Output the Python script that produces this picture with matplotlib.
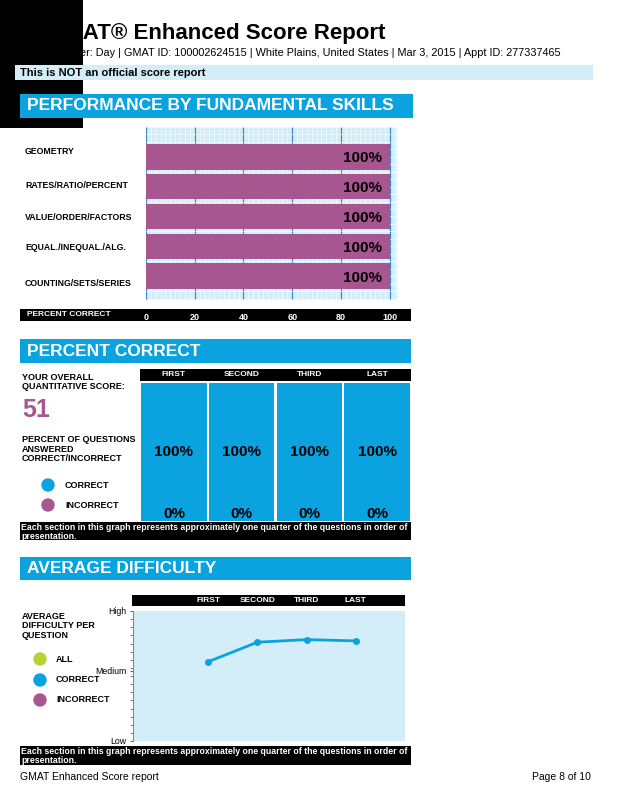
import matplotlib
matplotlib.use("Agg")
import matplotlib.pyplot as plt
from matplotlib.patches import Rectangle, Circle
import numpy as np

plt.rcParams['font.family'] = 'Liberation Sans'

skills = ["GEOMETRY", "RATES/RATIO/PERCENT", "VALUE/ORDER/FACTORS", "EQUAL./INEQUAL./ALG.", "COUNTING/SETS/SERIES"]
skill_pct = [100, 100, 100, 100, 100]
skill_ticks = [0, 20, 40, 60, 80, 100]
sections = ["FIRST", "SECOND", "THIRD", "LAST"]
correct_pct = [100, 100, 100, 100]
incorrect_pct = [0, 0, 0, 0]
quant_score = 51
difficulty_correct = [61, 76, 78, 77]

BLUE = '#0aa3e0'
PURPLE = '#a8568f'
LIGHT = '#d3eef9'
W, H = 618, 800
fig = plt.figure(figsize=(W/100, H/100), dpi=100)
bg = fig.add_axes([0, 0, 1, 1])
bg.set_xlim(0, W); bg.set_ylim(H, 0); bg.axis('off')

def rect(x0, y0, x1, y1, c, z=1):
    bg.add_patch(Rectangle((x0, y0), x1-x0, y1-y0, color=c, zorder=z, lw=0))

def ax_at(x0, y0, x1, y1):
    return fig.add_axes([x0/W, 1-y1/H, (x1-x0)/W, (y1-y0)/H])

# header
bg.text(47, 33, "GMAT\u00ae Enhanced Score Report", fontsize=16, weight='bold', va='center', zorder=2)
bg.text(40, 53, "Test Taker: Day | GMAT ID: 100002624515 | White Plains, United States | Mar 3, 2015 | Appt ID: 277337465",
        fontsize=7.8, va='center', zorder=2)
rect(0, 0, 83, 128, 'black', 3)
rect(15, 65, 593, 80, LIGHT, 4)
bg.text(20, 72.5, "This is NOT an official score report", fontsize=8, weight='bold', va='center', zorder=5)

def header(y0, y1, x1, txt):
    rect(20, y0, x1, y1, BLUE, 4)
    bg.text(27, (y0+y1)/2, txt, color='white', fontsize=12.5, weight='bold', va='center', zorder=5)

def strip(y0, y1, txt):
    rect(20, y0, 411, y1, 'black', 2)
    bg.text(21, y0+1, txt, color='white', fontsize=6.3, weight='bold', va='top', zorder=3, linespacing=1.05)

# Section 1
header(94, 118, 413, "PERFORMANCE BY FUNDAMENTAL SKILLS")
ax1 = ax_at(146, 127, 397, 300)
ax1.set_facecolor(LIGHT)
ax1.set_xlim(0, 103); ax1.set_ylim(len(skills)-0.2, -1.0)
ax1.set_xticks(np.arange(0, 103, 2), minor=True)
ax1.set_yticks(np.arange(-1, 5, 0.25), minor=True)
ax1.grid(True, which='minor', color='white', lw=0.4)
ax1.set_xticks(skill_ticks)
ax1.grid(True, which='major', axis='x', color='#3c7fc8', lw=0.8)
ax1.set_axisbelow(True)
ax1.barh(range(len(skills)), skill_pct, height=0.85, color=PURPLE, zorder=3)
for i, v in enumerate(skill_pct):
    ax1.text(v - 3, i + 0.05, f"{v}%", ha='right', va='center', fontsize=11, weight='bold', zorder=4)
ax1.set_yticks([])
ax1.tick_params(axis='both', which='both', length=0)
ax1.tick_params(axis='x', colors='white', labelsize=6.5, pad=9)
ax1.set_xticklabels([str(t) for t in skill_ticks], fontweight='bold')
for s in ax1.spines.values(): s.set_visible(False)
label_y = [152, 185, 217, 248, 283]
for lab, y in zip(skills, label_y):
    bg.text(25, y, lab, fontsize=6.3, weight='bold', va='center')
rect(20, 309, 411, 321, 'black', 0.5)
bg.text(27, 315, "PERCENT CORRECT", color='white', fontsize=6, weight='bold', va='center', zorder=3)

# Section 2
header(339, 363, 411, "PERCENT CORRECT")
rect(140, 369, 411, 381, 'black', 2)
ax2 = ax_at(140, 383, 411, 521)
ax2.set_xlim(-0.5, 3.5); ax2.set_ylim(0, 100)
ax2.bar(range(4), correct_pct, width=0.97, color=BLUE)
ax2.bar(range(4), incorrect_pct, bottom=correct_pct, width=0.97, color=PURPLE)
ax2.axis('off')
for i in range(4):
    bg_x = 140 + (i + 0.5) * (271/4)
    bg.text(bg_x, 375, sections[i], color='white', fontsize=6, weight='bold', ha='center', va='center', zorder=3)
    ax2.text(i, 50, f"{correct_pct[i]}%", ha='center', va='center', fontsize=11, weight='bold')
    ax2.text(i, 5, f"{incorrect_pct[i]}%", ha='center', va='center', fontsize=11, weight='bold')
bg.text(22, 382, "YOUR OVERALL\nQUANTITATIVE SCORE:", fontsize=6.5, weight='bold', va='center', linespacing=1.1)
bg.text(22, 410, str(quant_score), fontsize=18, weight='bold', color=PURPLE, va='center')
bg.text(22, 449, "PERCENT OF QUESTIONS\nANSWERED\nCORRECT/INCORRECT", fontsize=6.5, weight='bold', va='center', linespacing=1.1)
bg.add_patch(Circle((48, 485), 6, color=BLUE)); bg.text(65, 485, "CORRECT", fontsize=6.5, weight='bold', va='center')
bg.add_patch(Circle((48, 505), 6, color=PURPLE)); bg.text(65, 505, "INCORRECT", fontsize=6.5, weight='bold', va='center')
strip(522, 540, "Each section in this graph represents approximately one quarter of the questions in order of\npresentation.")

# Section 3
header(557, 580, 411, "AVERAGE DIFFICULTY")
rect(132, 595, 405, 606, 'black', 2)
ax3 = ax_at(133, 611, 405, 741)
ax3.set_facecolor(LIGHT)
ax3.set_xlim(-1.53, 4.0); ax3.set_ylim(0, 100)
ax3.plot(range(4), difficulty_correct, color=BLUE, lw=2, marker='o', ms=4)
ax3.set_xticks([])
ax3.set_yticks([100, 54, 0]); ax3.set_yticklabels(["High", "Medium", "Low"], fontsize=6.3)
ax3.set_yticks(np.arange(0, 101, 6.25), minor=True)
ax3.tick_params(axis='y', which='both', length=2, color='#666666', pad=3)
for k in ['top', 'right', 'bottom']: ax3.spines[k].set_visible(False)
ax3.spines['left'].set_color('#888888')
for i in range(4):
    x = ax3.transData.transform((i, 0))[0]
    bg.text(x, 600, sections[i], color='white', fontsize=6, weight='bold', ha='center', va='center', zorder=3)
bg.text(22, 626, "AVERAGE\nDIFFICULTY PER\nQUESTION", fontsize=6.5, weight='bold', va='center', linespacing=1.1)
for y, c, t in [(659, '#b5d334', "ALL"), (680, BLUE, "CORRECT"), (700, PURPLE, "INCORRECT")]:
    bg.add_patch(Circle((40, y), 6, color=c)); bg.text(56, y, t, fontsize=6.5, weight='bold', va='center')
strip(746, 765, "Each section in this graph represents approximately one quarter of the questions in order of\npresentation.")

bg.text(20, 777, "GMAT Enhanced Score report", fontsize=7.5, va='center')
bg.text(591, 777, "Page 8 of 10", fontsize=7.5, va='center', ha='right')

fig.savefig("out.png", dpi=100)
